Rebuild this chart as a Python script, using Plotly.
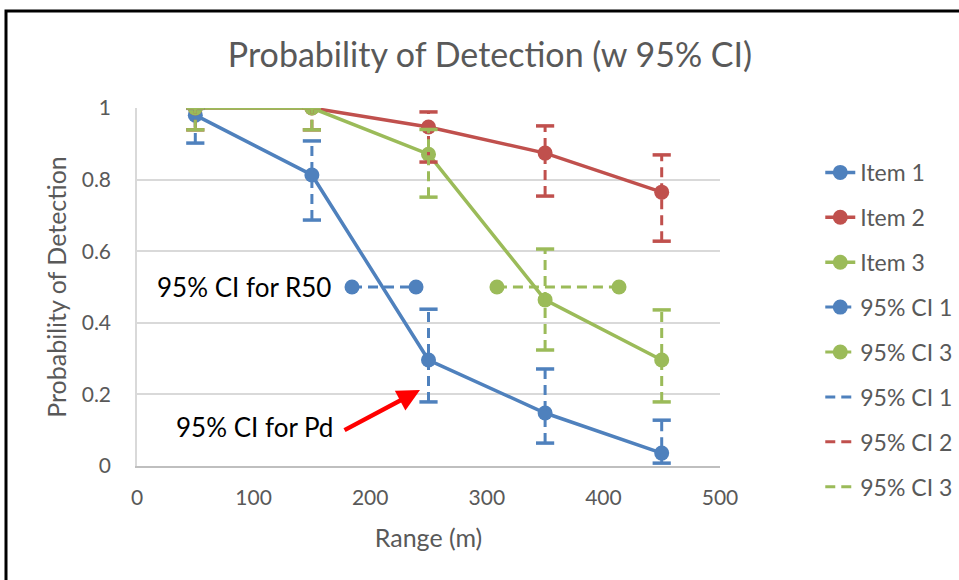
import plotly.graph_objects as go

# ---- data ----
ranges = [50, 150, 250, 350, 450]
item1 = [0.980, 0.813, 0.296, 0.148, 0.036]
item2 = [1.000, 1.000, 0.947, 0.874, 0.765]
item3 = [1.000, 1.000, 0.871, 0.464, 0.296]

ci1_lo = [0.902, 0.687, 0.179, 0.064, 0.008]
ci1_hi = [0.999, 0.908, 0.438, 0.271, 0.128]
ci2_lo = [0.939, 0.939, 0.849, 0.754, 0.628]
ci2_hi = [1.000, 1.000, 0.989, 0.950, 0.869]
ci3_lo = [0.939, 0.939, 0.751, 0.324, 0.179]
ci3_hi = [1.000, 1.000, 0.940, 0.606, 0.436]

r50_ci1_x = [184.4, 239.3]
r50_ci3_x = [308.7, 413.4]
r50_level = [0.5, 0.5]

x_ticks = [0, 100, 200, 300, 400, 500]
y_ticks = [0, 0.2, 0.4, 0.6, 0.8, 1.0]
y_tick_labels = ["0", "0.2", "0.4", "0.6", "0.8", "1"]

BLUE = "#4F81BD"
RED = "#C0504D"
GREEN = "#9BBB59"
TXT = "#595959"
FONT = "Lato, 'Open Sans', sans-serif"
DASH = "10px,6px"

fig = go.Figure()

for name, ys, c in [("Item 1", item1, BLUE), ("Item 2", item2, RED), ("Item 3", item3, GREEN)]:
    fig.add_trace(go.Scatter(x=ranges, y=ys, name=name, mode="lines+markers",
                             line=dict(color=c, width=3.5),
                             marker=dict(color=c, size=15),
                             legendgroup=name))

for name, xs, c in [("95% CI 1", r50_ci1_x, BLUE), ("95% CI 3", r50_ci3_x, GREEN)]:
    fig.add_trace(go.Scatter(x=xs, y=r50_level, name=name, mode="lines+markers",
                             line=dict(color=c, width=3, dash=DASH),
                             marker=dict(color=c, size=15),
                             legendgroup=name + "r"))


def seg(xv, lo, hi):
    xs, ys = [], []
    for x, a, b in zip(xv, lo, hi):
        xs += [x, x, None]
        ys += [a, b, None]
    return xs, ys


for name, lo, hi, c in [("95% CI 1", ci1_lo, ci1_hi, BLUE),
                        ("95% CI 2", ci2_lo, ci2_hi, RED),
                        ("95% CI 3", ci3_lo, ci3_hi, GREEN)]:
    sx, sy = seg(ranges, lo, hi)
    fig.add_trace(go.Scatter(x=sx, y=sy, name=name, mode="lines",
                             line=dict(color=c, width=3, dash=DASH),
                             legendgroup=name + "v"))
    fig.add_trace(go.Scatter(x=ranges + ranges, y=lo + hi, mode="markers",
                             marker=dict(symbol="line-ew", size=13,
                                         line=dict(color=c, width=3.5)),
                             showlegend=False, hoverinfo="skip",
                             legendgroup=name + "v"))

fig.add_annotation(x=242.7, y=0.212, ax=176.7, ay=0.098, axref="x", ayref="y",
                   xref="x", yref="y", text="", showarrow=True,
                   arrowcolor="#FF0000", arrowwidth=4.5, arrowhead=2, arrowsize=1)
fig.add_annotation(x=168, y=0.5, xref="x", yref="y", text="95% CI for R50",
                   showarrow=False, xanchor="right", yanchor="middle",
                   font=dict(family=FONT, size=26, color="black"))
fig.add_annotation(x=170, y=0.109, xref="x", yref="y", text="95% CI for Pd",
                   showarrow=False, xanchor="right", yanchor="middle",
                   font=dict(family=FONT, size=26, color="black"))

# outer black frame
fig.add_shape(type="rect", xref="paper", yref="paper",
              x0=-0.2247, x1=1.6, y0=-0.6, y1=1.271,
              line=dict(color="black", width=3), layer="above")

fig.update_layout(
    width=959, height=580,
    margin=dict(l=137, r=239, t=108, b=114, autoexpand=False),
    paper_bgcolor="white", plot_bgcolor="white",
    font=dict(family=FONT, size=21, color=TXT),
    title=dict(text="Probability of Detection (w 95% CI)", x=(490 - 137) / 583,
               xref="paper", xanchor="center",
               y=1 - 55 / 580, yanchor="middle",
               font=dict(family=FONT, size=34, color=TXT)),
    xaxis=dict(range=[0, 500], tickvals=x_ticks, showgrid=False,
               showline=True, linecolor="#BFBFBF", linewidth=1.5,
               ticks="", zeroline=False, ticklabelstandoff=12,
               title=dict(text="Range (m)", font=dict(size=25, color=TXT), standoff=22),
               tickfont=dict(size=21, color=TXT)),
    yaxis=dict(range=[0, 1], tickvals=y_ticks, ticktext=y_tick_labels,
               showgrid=True, gridcolor="#D9D9D9", gridwidth=1.5,
               showline=True, linecolor="#D9D9D9", linewidth=1.5,
               ticks="", zeroline=False, ticklabelstandoff=20,
               title=dict(text="Probability of Detection", font=dict(size=25, color=TXT), standoff=8),
               tickfont=dict(size=21, color=TXT)),
    legend=dict(x=1.172, xanchor="left", y=0.88, yanchor="top",
                font=dict(family=FONT, size=23, color=TXT),
                tracegroupgap=12, traceorder="grouped",
                bgcolor="rgba(0,0,0,0)"),
    showlegend=True,
)

fig.write_html("out.html", config={"displayModeBar": False},
               post_script="document.body.style.margin='0';")
